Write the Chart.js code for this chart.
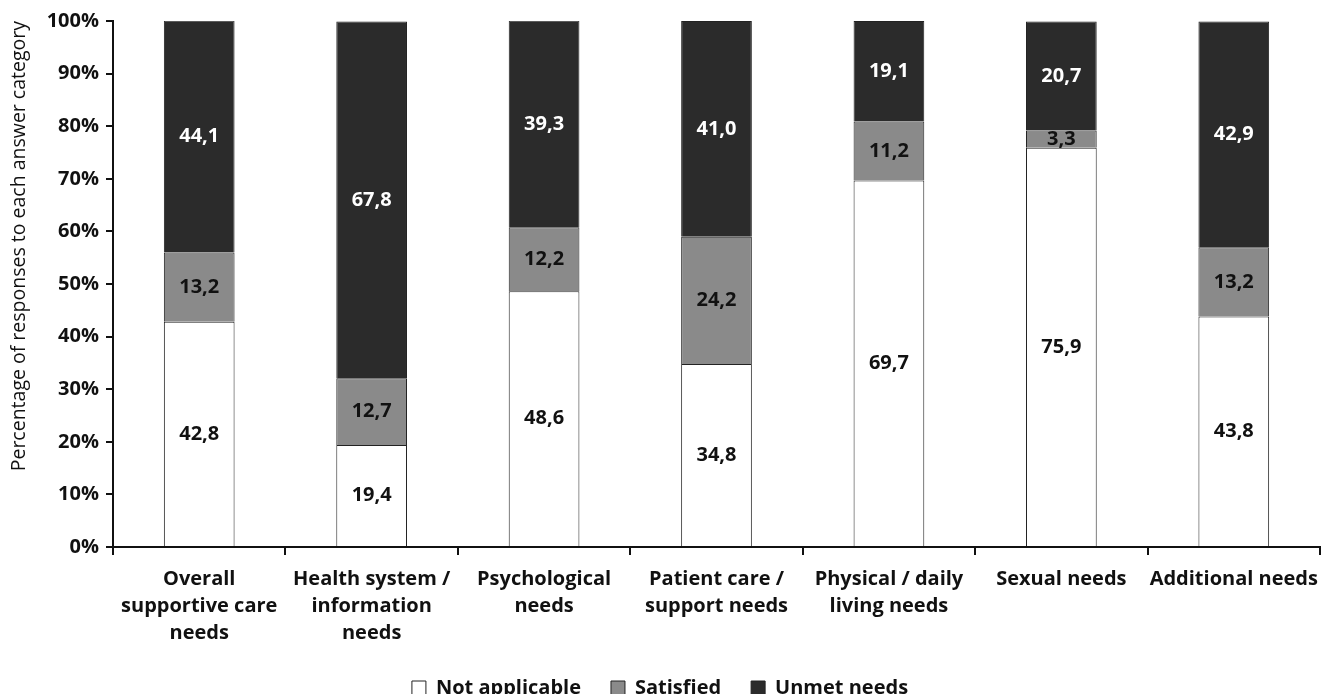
<!DOCTYPE html>
<html>
<head>
<meta charset="utf-8">
<script src="https://cdn.jsdelivr.net/npm/chart.js@4.4.0/dist/chart.umd.min.js"></script>
<style>
  html, body { margin: 0; padding: 0; background: #fff; }
  #wrap { width: 1334px; height: 694px; }
</style>
</head>
<body>
<div id="wrap"><canvas id="needs-chart" width="1334" height="694"></canvas></div>
<script>
// categories, multi-line as in the original
let categories = [
  ["Overall", "supportive care", "needs"],
  ["Health system /", "information", "needs"],
  ["Psychological", "needs"],
  ["Patient care /", "support needs"],
  ["Physical / daily", "living needs"],
  ["Sexual needs"],
  ["Additional needs"],
];
let notApplicable = [42.8, 19.4, 48.6, 34.8, 69.7, 75.9, 43.8];
let satisfied = [13.2, 12.7, 12.2, 24.2, 11.2, 3.3, 13.2];
let unmetNeeds = [44.1, 67.8, 39.3, 41.0, 19.1, 20.7, 42.9];
let yTicks = [0, 10, 20, 30, 40, 50, 60, 70, 80, 90, 100];

const fontFamily = "'Open Sans', Lato, sans-serif";

// draws the numbers in the middle of each segment
const segmentLabels = {
  id: "segmentLabels",
  afterDatasetsDraw(chart) {
    const ctx = chart.ctx;
    ctx.save();
    ctx.font = "bold 20px " + fontFamily;
    ctx.textAlign = "center";
    ctx.textBaseline = "middle";
    chart.data.datasets.forEach((ds, i) => {
      const meta = chart.getDatasetMeta(i);
      meta.data.forEach((bar, j) => {
        const v = ds.data[j];
        const y = (bar.y + bar.base) / 2;
        ctx.fillStyle = ds.labelColor;
        ctx.fillText(v.toFixed(1).replace(".", ","), bar.x, y);
      });
    });
    ctx.restore();
  },
};

const data = {
  labels: categories,
  datasets: [
    {
      label: "Not applicable",
      data: notApplicable,
      backgroundColor: "#ffffff",
      borderColor: "#222",
      borderWidth: 1,
      labelColor: "#111",
    },
    {
      label: "Satisfied",
      data: satisfied,
      backgroundColor: "#8a8a8a",
      borderColor: "#222",
      borderWidth: 1,
      labelColor: "#111",
    },
    {
      label: "Unmet needs",
      data: unmetNeeds,
      backgroundColor: "#2b2b2b",
      borderColor: "#222",
      borderWidth: 1,
      labelColor: "#ffffff",
    },
  ],
};

const config = {
  type: "bar",
  data: data,
  options: {
    responsive: false,
    devicePixelRatio: 1,
    animation: false,
    categoryPercentage: 1,
    barPercentage: 0.41,
    // negative bottom lets the legend sit right on the lower edge
    layout: { padding: { top: 21, right: 14, left: 0, bottom: -14 } },
    plugins: {
      tooltip: { enabled: false },
      legend: {
        position: "bottom",
        labels: {
          color: "#111",
          font: { family: fontFamily, size: 20, weight: "bold" },
          boxWidth: 14,
          boxHeight: 14,
          padding: 30,
        },
      },
    },
    scales: {
      x: {
        stacked: true,
        afterFit: (axis) => {
          axis.height = 101;
        },
        grid: {
          offset: true,
          drawOnChartArea: false,
          drawTicks: true,
          tickLength: 8,
          color: "#111",
          lineWidth: 2,
        },
        border: { color: "#111", width: 2 },
        ticks: {
          color: "#111",
          font: { family: fontFamily, size: 20, weight: "bold", lineHeight: 1.35 },
          maxRotation: 0,
          autoSkip: false,
          padding: 11,
        },
      },
      y: {
        stacked: true,
        min: 0,
        max: 100,
        afterFit: (axis) => {
          axis.width = 113;
        },
        afterBuildTicks: (axis) => {
          axis.ticks = yTicks.map((v) => ({ value: v }));
        },
        grid: {
          drawOnChartArea: false,
          drawTicks: true,
          tickLength: 7,
          color: "#111",
          lineWidth: 2,
        },
        border: { color: "#111", width: 2 },
        ticks: {
          color: "#111",
          font: { family: fontFamily, size: 20, weight: "bold" },
          callback: (v) => v + "%",
          padding: 7,
        },
        title: {
          display: true,
          align: "end",
          text: "Percentage of responses to each answer category",
          color: "#111",
          font: { family: fontFamily, size: 19.5 },
          padding: { top: 8, bottom: 0 },
        },
      },
    },
  },
  plugins: [segmentLabels],
};

const ctx = document.getElementById("needs-chart").getContext("2d");
const myChart = new Chart(ctx, config);
</script>
</body>
</html>
